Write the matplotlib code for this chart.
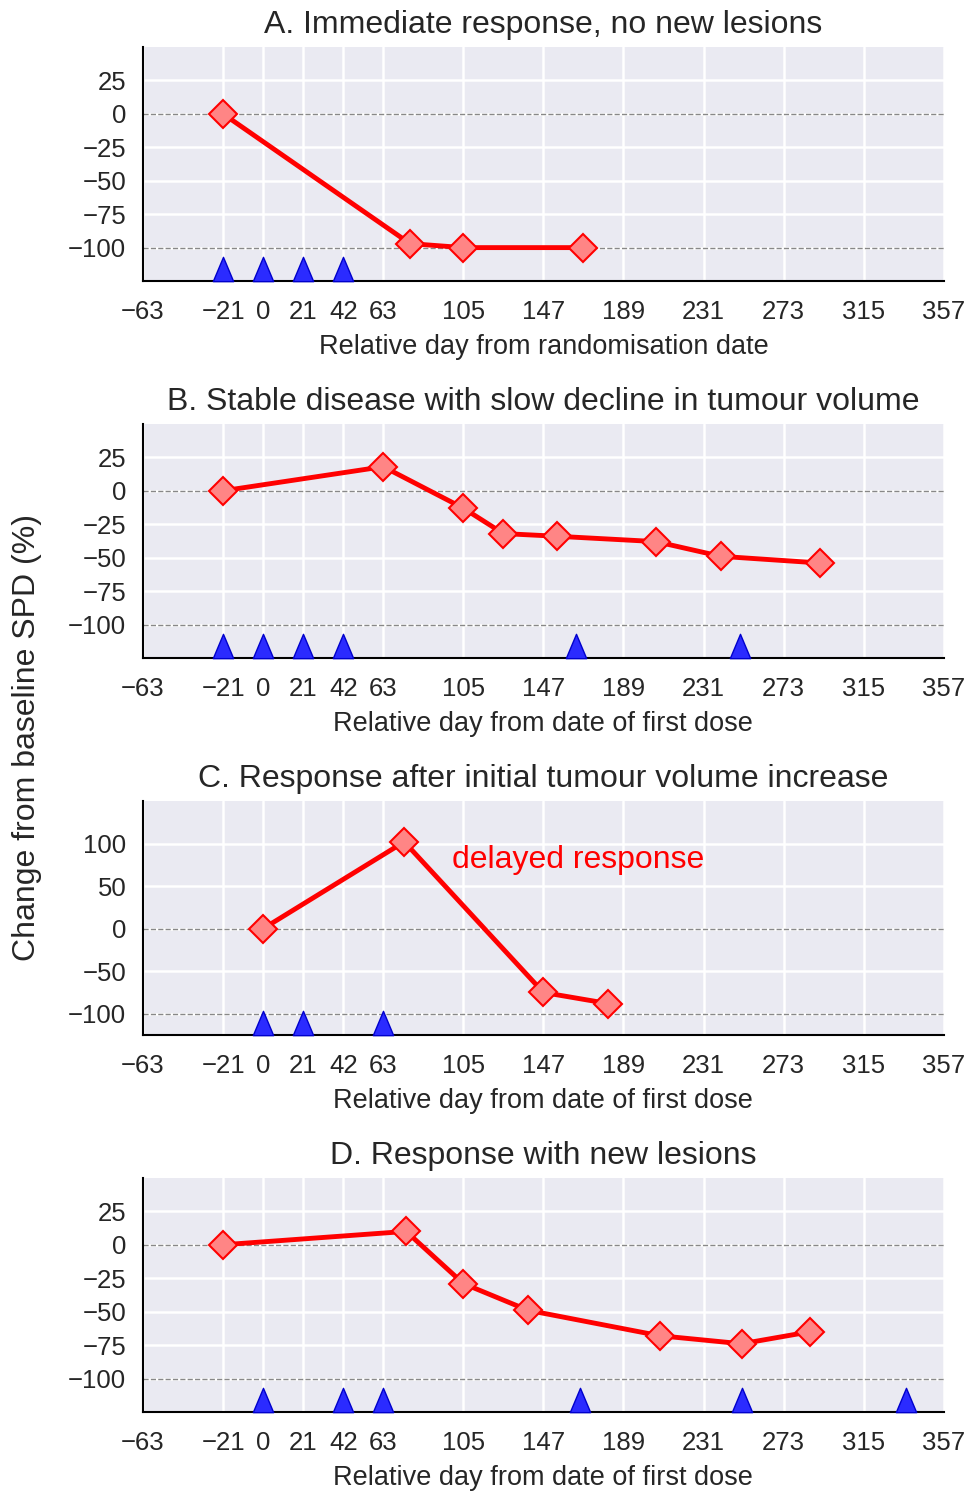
import matplotlib
matplotlib.use("Agg")
import matplotlib.pyplot as plt
from matplotlib.path import Path
import seaborn as sns

sns.set_style("darkgrid")
plt.rcParams['font.family'] = ['Liberation Sans', 'DejaVu Sans']

# panel data
titles = ["A. Immediate response, no new lesions",
          "B. Stable disease with slow decline in tumour volume",
          "C. Response after initial tumour volume increase",
          "D. Response with new lesions"]
xlabels = ["Relative day from randomisation date",
           "Relative day from date of first dose",
           "Relative day from date of first dose",
           "Relative day from date of first dose"]

a_days = [-21, 77, 105, 168]
a_spd = [0, -97, -100, -100]
a_doses = [-21, 0, 21, 42]

b_days = [-21, 63, 105, 126, 154, 206, 240, 292]
b_spd = [0, 18, -13, -32, -34, -38, -49, -54]
b_doses = [-21, 0, 21, 42, 164, 250]

c_days = [0, 74, 147, 181]
c_spd = [0, 102, -75, -88]
c_doses = [0, 21, 63]

d_days = [-21, 75, 105, 139, 208, 251, 287]
d_spd = [0, 10, -29, -49, -68, -74, -65]
d_doses = [0, 42, 63, 166, 251, 337]

xticks = [-63, -21, 0, 21, 42, 63, 105, 147, 189, 231, 273, 315, 357]

panels = [
    (a_days, a_spd, a_doses, (-125, 50), [25, 0, -25, -50, -75, -100]),
    (b_days, b_spd, b_doses, (-125, 50), [25, 0, -25, -50, -75, -100]),
    (c_days, c_spd, c_doses, (-125, 150), [100, 50, 0, -50, -100]),
    (d_days, d_spd, d_doses, (-125, 50), [25, 0, -25, -50, -75, -100]),
]

# slim upright triangle
tri = Path([(-0.42, -0.5), (0.42, -0.5), (0, 0.5), (-0.42, -0.5)],
           [Path.MOVETO, Path.LINETO, Path.LINETO, Path.CLOSEPOLY])

fig = plt.figure(figsize=(9.69, 14.91), dpi=100)
bottoms = [0.8115, 0.5587, 0.3058, 0.053]

for i, (days, spd, doses, ylim, yticks) in enumerate(panels):
    ax = fig.add_axes([0.1476, bottoms[i], 0.8264, 0.157])
    ax.set_xlim(-63, 357)
    ax.set_ylim(*ylim)
    ax.set_xticks(xticks)
    ax.set_yticks(yticks)
    ax.grid(color='white', lw=1.8)
    ax.tick_params(labelsize=18.5, length=0)
    ax.tick_params(axis='x', pad=14)
    ax.tick_params(axis='y', pad=12)
    ax.axhline(0, color='#888888', lw=1, ls='--', zorder=1)
    ax.axhline(-100, color='#888888', lw=1, ls='--', zorder=1)
    ax.plot(days, spd, color='red', lw=3.5, marker='D', ms=14,
            mfc='#ff8585', mec='red', mew=1.5, zorder=3)
    ax.plot(doses, [ylim[0] + 9 * (ylim[1] - ylim[0]) / 175] * len(doses),
            ls='none', marker=tri, ms=17.5, mfc='#2b2bff', mec='#0000cc',
            mew=1, zorder=3, clip_on=False)
    ax.set_title(titles[i], fontsize=23, pad=10)
    ax.set_xlabel(xlabels[i], fontsize=19.5, labelpad=7)
    for s in ['top', 'right']:
        ax.spines[s].set_visible(False)
    for s in ['left', 'bottom']:
        ax.spines[s].set_visible(True)
        ax.spines[s].set_color('black')
        ax.spines[s].set_linewidth(1.5)
    if i == 2:
        ax.text(99, 81, "delayed response", color='red', fontsize=23,
                va='center', ha='left')

fig.text(0.028, 0.5055, "Change from baseline SPD (%)", rotation=90,
         fontsize=23, va='center', ha='center')

fig.savefig("out.png", dpi=100)
